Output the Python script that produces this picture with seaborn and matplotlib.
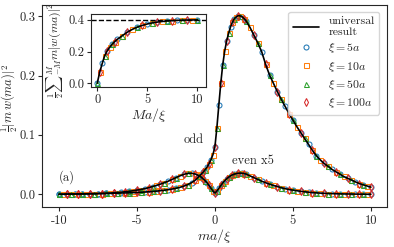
import numpy as np
import matplotlib
matplotlib.use("Agg")
import matplotlib.pyplot as plt
import seaborn as sns

# ma/xi grid: 0.25 steps, 0.125 steps around the peak
x_main = ([-10 + 0.25 * k for k in range(37)]
          + [-0.875 + 0.125 * k for k in range(24)]
          + [2.25 + 0.25 * k for k in range(32)])

odd = [0.000, 0.0002, 0.0004, 0.0005, 0.0006, 0.0007, 0.0008, 0.0009, 0.0010, 0.0011,
       0.0012, 0.0013, 0.0014, 0.0015, 0.0017, 0.0019, 0.0021, 0.0023, 0.0025, 0.0028,
       0.0031, 0.0034, 0.0038, 0.0042, 0.0047, 0.0053, 0.0060, 0.0068, 0.0077, 0.0088,
       0.0101, 0.0117, 0.0137, 0.0162, 0.0195, 0.0240, 0.0305,
       0.034, 0.0375, 0.0415, 0.046, 0.0515, 0.0585, 0.067, 0.080, 0.112, 0.150,
       0.187, 0.218, 0.241, 0.258, 0.271, 0.282, 0.290, 0.296, 0.299, 0.301,
       0.3005, 0.299, 0.296, 0.292,
       0.281, 0.268, 0.255, 0.240, 0.219, 0.201, 0.187, 0.173, 0.160, 0.148,
       0.136, 0.125, 0.114, 0.104, 0.094, 0.084, 0.074, 0.065, 0.058, 0.052,
       0.047, 0.042, 0.038, 0.034, 0.030, 0.027, 0.024, 0.021, 0.018, 0.016,
       0.014, 0.012]

even_x5 = [0.0001, 0.0001, 0.0002, 0.0002, 0.0003, 0.0004, 0.0005, 0.0006, 0.0007, 0.0009,
           0.0011, 0.0013, 0.0016, 0.0020, 0.0024, 0.0029, 0.0035, 0.0042, 0.0050, 0.0060,
           0.0070, 0.0080, 0.0095, 0.0110, 0.0130, 0.0150, 0.0170, 0.0195, 0.0220, 0.0250,
           0.0280, 0.0310, 0.0335, 0.0352, 0.0355, 0.0340, 0.0310,
           0.0288, 0.0260, 0.0228, 0.0190, 0.0148, 0.0100, 0.0055, 0.0020, 0.0055, 0.0100,
           0.0148, 0.0190, 0.0228, 0.0260, 0.0288, 0.0310, 0.0328, 0.0340, 0.0350, 0.0355,
           0.0356, 0.0355, 0.0350, 0.0340,
           0.0310, 0.0280, 0.0250, 0.0220, 0.0195, 0.0170, 0.0150, 0.0130, 0.0110, 0.0095,
           0.0080, 0.0070, 0.0060, 0.0050, 0.0042, 0.0035, 0.0029, 0.0024, 0.0020, 0.0016,
           0.0013, 0.0011, 0.0009, 0.0007, 0.0006, 0.0005, 0.0004, 0.0003, 0.0002, 0.0002,
           0.0001, 0.0001]

# inset: cumulative sum vs Ma/xi
x_ins = [0, 0.25, 0.5, 0.75, 1, 1.25, 1.5, 1.75, 2, 2.5, 3, 3.5, 4, 4.5, 5,
         5.5, 6, 6.5, 7, 7.5, 8, 8.5, 9, 9.5, 10]
y_ins = [0.0, 0.07, 0.125, 0.175, 0.205, 0.228, 0.247, 0.263, 0.277, 0.300, 0.322,
         0.340, 0.354, 0.365, 0.374, 0.381, 0.386, 0.390, 0.393, 0.395, 0.397,
         0.398, 0.399, 0.3995, 0.4]
plateau = 0.4

series = [r'$\xi{=}5a$', r'$\xi{=}10a$', r'$\xi{=}50a$', r'$\xi{=}100a$']
markers = ['o', 's', '^', 'd']
colors = sns.color_palette('tab10', 4)
main_slices = [slice(0, None, 2), slice(1, None, 2), slice(0, None, 3), slice(2, None, 3)]
ins_slices = [slice(0, None, 2), slice(1, None, 2), slice(0, None, 3), slice(1, None, 3)]

sns.set_style('ticks')
plt.rcParams['font.family'] = 'serif'
plt.rcParams['font.serif'] = ['cmr10']
plt.rcParams['mathtext.fontset'] = 'cm'
plt.rcParams['axes.unicode_minus'] = False
plt.rcParams['axes.formatter.use_mathtext'] = False

fig = plt.figure(figsize=(3.94, 2.47), dpi=100)
ax = fig.add_axes([0.106, 0.163, 0.875, 0.817])

xm = np.array(x_main)
yo = np.array(odd)
ye = np.array(even_x5)
for lab, mk, c, sl in zip(series, markers, colors, main_slices):
    ax.plot(xm[sl], yo[sl], ls='', marker=mk, ms=3.6, mfc='none', mec=c, mew=0.75, label=lab)
    ax.plot(xm[sl], ye[sl], ls='', marker=mk, ms=3.6, mfc='none', mec=c, mew=0.75)

sns.lineplot(x=x_main, y=odd, color='k', lw=1.2, ax=ax, label='universal\nresult', zorder=5)
sns.lineplot(x=x_main, y=even_x5, color='k', lw=1.2, ax=ax, zorder=5)

ax.set_xlim(-11.1, 11.0)
ax.set_ylim(-0.021, 0.319)
ax.set_xticks([-10, -5, 0, 5, 10])
ax.set_xticklabels(['-10', '-5', '0', '5', '10'])
ax.set_yticks([0.0, 0.1, 0.2, 0.3])
ax.tick_params(labelsize=9, length=3.2, width=0.8, pad=1.5)
ax.tick_params(axis='x', pad=2.5)
ax.set_xlabel(r'$ma/\xi$', fontsize=10, labelpad=0)
ax.set_ylabel(r'$\frac{1}{2}|m\,w(ma)|^2$', fontsize=9)
ax.yaxis.set_label_coords(-0.063, 0.54)

ax.text(-1.38, 0.0914, 'odd', fontsize=9, ha='center', va='center')
ax.text(2.44, 0.056, 'even x5', fontsize=9, ha='center', va='center')
ax.text(-9.5, 0.0286, '(a)', fontsize=9, ha='center', va='center')

h, l = ax.get_legend_handles_labels()
order = [l.index('universal\nresult')] + [l.index(s) for s in series]
ax.legend([h[k] for k in order], [l[k] for k in order], loc='upper right',
          fontsize=8.5, handlelength=2.2, borderaxespad=0.6, labelspacing=0.35)

# inset
axi = fig.add_axes([0.230, 0.647, 0.294, 0.297])
xi_arr = np.array(x_ins)
yi_arr = np.array(y_ins)
for mk, c, sl in zip(markers, colors, ins_slices):
    axi.plot(xi_arr[sl], yi_arr[sl], ls='', marker=mk, ms=3.6, mfc='none', mec=c, mew=0.75)
sns.lineplot(x=x_ins, y=y_ins, color='k', lw=1.2, ax=axi, zorder=5)
axi.axhline(plateau, color='k', ls='--', lw=1.0)
axi.set_xlim(-0.66, 10.9)
axi.set_ylim(-0.025, 0.438)
axi.set_xticks([0, 5, 10])
axi.set_yticks([0.0, 0.2, 0.4])
axi.tick_params(labelsize=9, length=3.2, width=0.8, pad=1.5)
axi.set_xlabel(r'$Ma/\xi$', fontsize=10, labelpad=0)
axi.set_ylabel(r'$\frac{1}{2}{\sum}_{-M}^{M} m|w(ma)|^2$', fontsize=8.5)
axi.yaxis.set_label_coords(-0.215, 0.5)

fig.savefig('out.png', dpi=100)
